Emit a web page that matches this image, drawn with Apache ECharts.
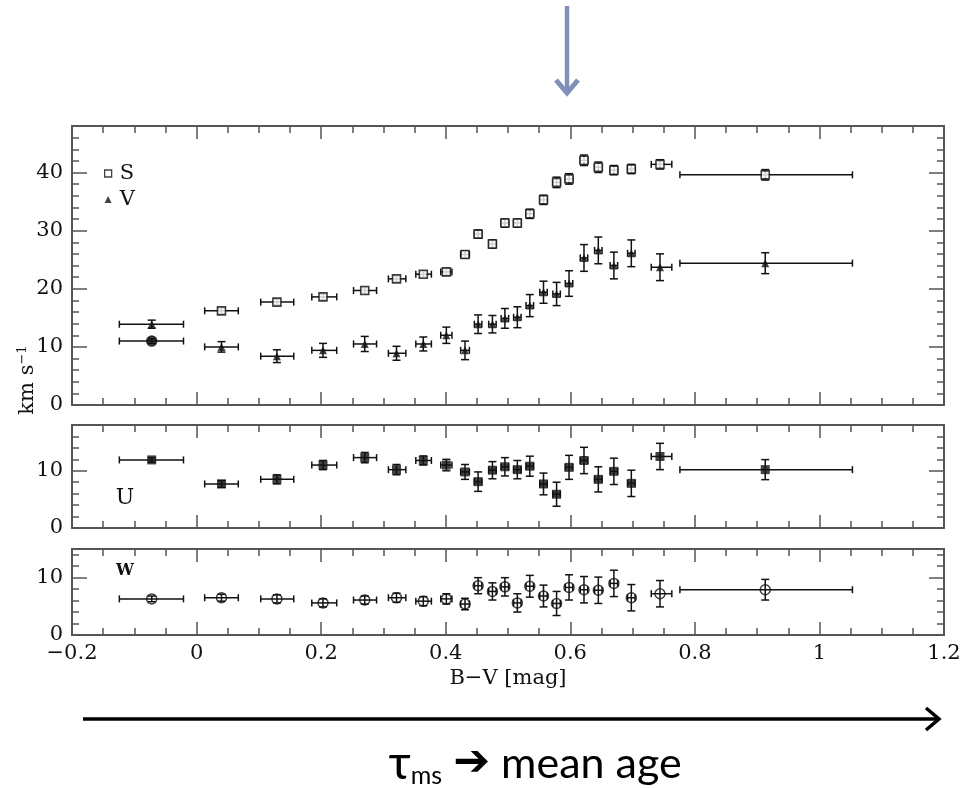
<!DOCTYPE html>
<html>
<head>
<meta charset="utf-8">
<script src="https://cdn.jsdelivr.net/npm/echarts@6/dist/echarts.min.js"></script>
<style>
html,body{margin:0;padding:0;background:#fff;}
#chart{width:974px;height:788px;}
</style>
</head>
<body>
<div id="chart"></div>
<script>
// B-V bins: centres and horizontal extents
const xCenter = [-0.072, 0.040, 0.129, 0.203, 0.270, 0.321, 0.364, 0.401, 0.431, 0.452, 0.475, 0.495, 0.515, 0.535, 0.557, 0.578, 0.598, 0.622, 0.645, 0.670, 0.698, 0.744, 0.913];
const xLo = [-0.124, 0.013, 0.103, 0.185, 0.252, 0.308, 0.352, 0.392, 0.424, 0.446, 0.469, 0.489, 0.509, 0.529, 0.551, 0.572, 0.592, 0.616, 0.639, 0.664, 0.692, 0.730, 0.776];
const xHi = [-0.021, 0.067, 0.156, 0.225, 0.289, 0.336, 0.377, 0.410, 0.438, 0.458, 0.481, 0.501, 0.521, 0.541, 0.563, 0.584, 0.604, 0.628, 0.651, 0.676, 0.704, 0.763, 1.053];

// velocity dispersions (km/s) and their errors
const S = [11.0, 16.2, 17.7, 18.6, 19.7, 21.7, 22.5, 22.9, 25.9, 29.4, 27.7, 31.3, 31.3, 32.9, 35.3, 38.3, 38.9, 42.1, 40.9, 40.4, 40.6, 41.4, 39.6];
const SErr = [0.4, 0.5, 0.5, 0.5, 0.5, 0.5, 0.5, 0.6, 0.6, 0.7, 0.7, 0.7, 0.7, 0.8, 0.8, 0.9, 0.9, 0.9, 0.9, 0.8, 0.8, 0.8, 0.9];
const V = [13.9, 10.0, 8.4, 9.4, 10.5, 8.9, 10.5, 12.0, 9.4, 13.9, 13.9, 14.9, 15.1, 17.1, 19.4, 19.1, 20.9, 25.3, 26.6, 24.0, 26.1, 23.7, 24.4];
const VErr = [0.7, 0.9, 1.1, 1.2, 1.3, 1.2, 1.2, 1.4, 1.6, 1.6, 1.5, 1.7, 1.8, 1.9, 1.9, 2.0, 2.2, 2.3, 2.3, 2.3, 2.3, 2.3, 1.8];
const U = [11.9, 7.7, 8.5, 11.0, 12.3, 10.2, 11.8, 11.0, 9.8, 8.1, 10.1, 10.7, 10.2, 10.8, 7.7, 5.9, 10.6, 11.8, 8.5, 9.9, 7.8, 12.5, 10.2];
const UErr = [0.4, 0.6, 0.8, 0.8, 0.9, 0.9, 0.8, 1.0, 1.3, 1.7, 1.5, 1.6, 1.6, 1.75, 1.9, 2.1, 2.1, 2.3, 2.2, 2.3, 2.3, 2.3, 1.75];
const W = [6.3, 6.5, 6.3, 5.6, 6.1, 6.5, 5.9, 6.3, 5.4, 8.6, 7.6, 8.4, 5.6, 8.5, 6.8, 5.5, 8.3, 7.9, 7.8, 9.0, 6.5, 7.2, 7.9];
const WErr = [0.5, 0.6, 0.7, 0.7, 0.7, 0.8, 0.8, 0.9, 1.0, 1.4, 1.5, 1.6, 1.6, 1.9, 1.9, 2.1, 2.2, 2.3, 2.3, 2.3, 2.3, 2.3, 1.8];

// axis settings
const xMin = -0.2, xMax = 1.2, xStep = 0.2;
const yTop = [0, 48], yMid = [0, 18], yBot = [0, 15];

const FONT = '"DejaVu Serif", "Liberation Serif", serif';
const INK = '#111';
const AX = '#555';

const chart = echarts.init(document.getElementById('chart'), null, {renderer: 'canvas'});

function errData(vals, errs) {
  return vals.map((v, i) => [xCenter[i], v, xLo[i], xHi[i], v - errs[i], v + errs[i]]);
}

function errRender(params, api) {
  const x = api.value(0), y = api.value(1);
  const lo = api.coord([api.value(2), y]);
  const hi = api.coord([api.value(3), y]);
  const yl = api.coord([x, api.value(4)]);
  const yh = api.coord([x, api.value(5)]);
  const st = {stroke: INK, lineWidth: 1.5};
  const cap = 3.5, capv = 4;
  const kids = [
    {type: 'line', shape: {x1: lo[0], y1: lo[1], x2: hi[0], y2: hi[1]}, style: st},
    {type: 'line', shape: {x1: lo[0], y1: lo[1] - cap, x2: lo[0], y2: lo[1] + cap}, style: st},
    {type: 'line', shape: {x1: hi[0], y1: hi[1] - cap, x2: hi[0], y2: hi[1] + cap}, style: st},
    {type: 'line', shape: {x1: yl[0], y1: yl[1], x2: yh[0], y2: yh[1]}, style: st},
    {type: 'line', shape: {x1: yl[0] - capv, y1: yl[1], x2: yl[0] + capv, y2: yl[1]}, style: st},
    {type: 'line', shape: {x1: yh[0] - capv, y1: yh[1], x2: yh[0] + capv, y2: yh[1]}, style: st}
  ];
  return {type: 'group', children: kids};
}

const grids = [
  {left: 72, right: 30, top: 126, height: 279},
  {left: 72, right: 30, top: 425, height: 103},
  {left: 72, right: 30, top: 549, height: 86}
];

const xAxes = [], yAxes = [];
const yRanges = [yTop, yMid, yBot];
for (let g = 0; g < 3; g++) {
  ['bottom', 'top'].forEach(pos => {
    const isLabelled = (g === 2 && pos === 'bottom');
    xAxes.push({
      type: 'value', gridIndex: g, position: pos, min: xMin, max: xMax, interval: xStep,
      axisLine: {show: true, onZero: false, lineStyle: {color: AX, width: 2}},
      axisTick: {show: true, inside: true, length: 13, lineStyle: {color: AX, width: 1.5}},
      minorTick: {show: true, splitNumber: 4, length: 7, lineStyle: {color: AX, width: 1.5}},
      splitLine: {show: false},
      axisLabel: {
        show: isLabelled, color: INK, fontFamily: FONT, fontSize: 21, margin: 8,
        formatter: v => String(+(+v).toFixed(1)).replace('-', '\u2212')
      },
      name: isLabelled ? 'B\u2212V [mag]' : '',
      nameLocation: 'middle', nameGap: 33,
      nameTextStyle: {color: INK, fontFamily: FONT, fontSize: 21}
    });
  });
  ['left', 'right'].forEach(pos => {
    yAxes.push({
      type: 'value', gridIndex: g, position: pos, min: yRanges[g][0], max: yRanges[g][1], interval: 10,
      axisLine: {show: true, onZero: false, lineStyle: {color: AX, width: 2}},
      axisTick: {show: true, inside: true, length: 15, lineStyle: {color: AX, width: 1.5}},
      minorTick: {show: true, splitNumber: 5, length: 7, lineStyle: {color: AX, width: 1.5}},
      splitLine: {show: false},
      axisLabel: {
        show: pos === 'left', color: INK, fontFamily: FONT, fontSize: 21, margin: 9,
        showMaxLabel: false
      }
    });
  });
}

// axis indices: grid g -> x bottom = 2g, y left = 2g
const series = [
  {type: 'custom', name: 'S-err', xAxisIndex: 0, yAxisIndex: 0, data: errData(S, SErr), renderItem: errRender, encode: {x: 0, y: 1}, silent: true, z: 2},
  {type: 'custom', name: 'V-err', xAxisIndex: 0, yAxisIndex: 0, data: errData(V, VErr), renderItem: errRender, encode: {x: 0, y: 1}, silent: true, z: 2},
  {type: 'scatter', name: 'S', xAxisIndex: 0, yAxisIndex: 0, symbol: 'rect', symbolSize: 8,
    itemStyle: {color: '#fff', borderColor: INK, borderWidth: 1.6},
    data: S.map((v, i) => i === 0 ? {value: [xCenter[i], v], symbol: 'circle', symbolSize: 10, itemStyle: {color: INK}} : [xCenter[i], v]), z: 3},
  {type: 'scatter', name: 'V', xAxisIndex: 0, yAxisIndex: 0, symbol: 'triangle', symbolSize: 8,
    itemStyle: {color: INK}, data: V.map((v, i) => [xCenter[i], v]), z: 3},
  {type: 'custom', name: 'U-err', xAxisIndex: 2, yAxisIndex: 2, data: errData(U, UErr), renderItem: errRender, encode: {x: 0, y: 1}, silent: true, z: 2},
  {type: 'scatter', name: 'U', xAxisIndex: 2, yAxisIndex: 2, symbol: 'rect', symbolSize: 9,
    itemStyle: {color: INK}, data: U.map((v, i) => [xCenter[i], v]), z: 3},
  {type: 'custom', name: 'W-err', xAxisIndex: 4, yAxisIndex: 4, data: errData(W, WErr), renderItem: errRender, encode: {x: 0, y: 1}, silent: true, z: 2},
  {type: 'scatter', name: 'W', xAxisIndex: 4, yAxisIndex: 4, symbol: 'circle', symbolSize: 10,
    itemStyle: {color: 'rgba(255,255,255,0)', borderColor: INK, borderWidth: 1.5}, data: W.map((v, i) => [xCenter[i], v]), z: 3}
];

const option = {
  backgroundColor: '#fff',
  animation: false,
  grid: grids,
  xAxis: xAxes,
  yAxis: yAxes,
  legend: {
    orient: 'vertical', left: 99, top: 158, itemWidth: 7, itemHeight: 7, itemGap: 5,
    textStyle: {color: INK, fontFamily: FONT, fontSize: 21, padding: [0, 0, 0, 3]},
    data: [
      {name: 'S', icon: 'rect', itemStyle: {color: '#fff', borderColor: INK, borderWidth: 1.3}},
      {name: 'V', icon: 'triangle', itemStyle: {color: INK}}
    ]
  },
  graphic: [
    // y-axis name
    {type: 'text', x: 28, y: 380, rotation: Math.PI / 2,
      style: {text: 'km s{sup|\u22121}', fill: INK, font: '21px ' + FONT, align: 'center', verticalAlign: 'middle',
        rich: {sup: {fontFamily: FONT, fontSize: 13, verticalAlign: 'top', padding: [0, 0, 10, 0], fill: INK}}}},
    // panel labels
    {type: 'text', x: 125, y: 498, style: {text: 'U', fill: INK, font: '22px ' + FONT, align: 'center', verticalAlign: 'middle'}},
    {type: 'text', x: 125, y: 571, style: {text: 'W', fill: INK, font: 'bold 16px ' + FONT, align: 'center', verticalAlign: 'middle'}},
    // top pointer arrow
    {type: 'line', shape: {x1: 567, y1: 6, x2: 567, y2: 94}, style: {stroke: '#8090b8', lineWidth: 4.5}},
    {type: 'polyline', shape: {points: [[556, 80], [567, 93], [578, 80]]}, style: {stroke: '#8090b8', lineWidth: 5, fill: null}},
    // bottom arrow
    {type: 'line', shape: {x1: 83, y1: 719, x2: 938, y2: 719}, style: {stroke: '#000', lineWidth: 3.5}},
    {type: 'polyline', shape: {points: [[926, 708], [939, 719], [926, 730]]}, style: {stroke: '#000', lineWidth: 3.5, fill: null}},
    // bottom caption
    {type: 'text', x: 535, y: 764,
      style: {text: '{tau|\u03c4}{sub|ms} {arr|\u2794} mean age', fill: '#000', font: '43px Lato, "DejaVu Sans", sans-serif', align: 'center', verticalAlign: 'middle',
        rich: {
          tau: {fontFamily: 'Lato, sans-serif', fontSize: 48, fill: '#000'},
          sub: {fontFamily: 'Lato, sans-serif', fontSize: 25, verticalAlign: 'bottom', padding: [17, 0, 0, 0], fill: '#000'},
          arr: {fontFamily: '"DejaVu Sans", sans-serif', fontSize: 44, fill: '#000'}
        }}}
  ],
  series: series
};
chart.setOption(option);
</script>
</body>
</html>
